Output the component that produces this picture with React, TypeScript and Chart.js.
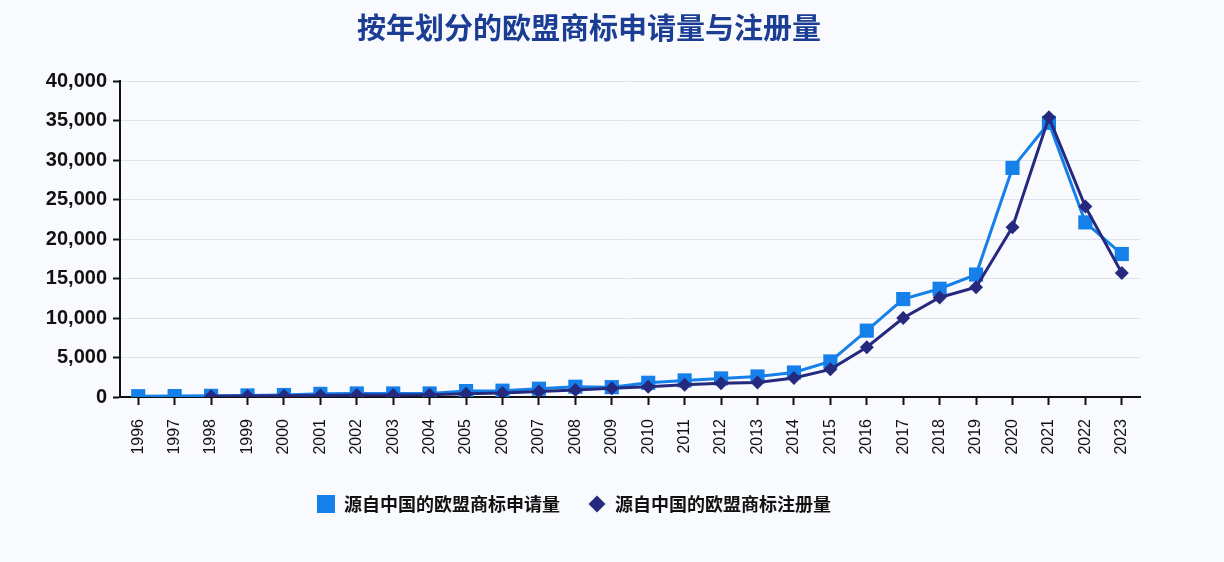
import React, { useEffect, useRef } from "react";
import { Chart, registerables } from "chart.js";

Chart.register(...registerables);

const TITLE = "按年划分的欧盟商标申请量与注册量";
const years = [
  "1996", "1997", "1998", "1999", "2000", "2001", "2002", "2003", "2004", "2005",
  "2006", "2007", "2008", "2009", "2010", "2011", "2012", "2013", "2014", "2015",
  "2016", "2017", "2018", "2019", "2020", "2021", "2022", "2023",
];
const applicationLabel = "源自中国的欧盟商标申请量";
const registrationLabel = "源自中国的欧盟商标注册量";
const applications = [
  100, 120, 150, 200, 250, 400, 450, 450, 450, 750,
  800, 1050, 1300, 1250, 1800, 2100, 2350, 2600, 3100, 4500,
  8400, 12400, 13700, 15500, 29000, 34700, 22100, 18100,
];
const registrations = [
  null, null, 100, 120, 150, 200, 250, 250, 300, 400,
  500, 700, 900, 1100, 1300, 1550, 1750, 1850, 2400, 3500,
  6300, 10000, 12600, 13900, 21500, 35400, 24100, 15700,
];
const yTicks = [0, 5000, 10000, 15000, 20000, 25000, 30000, 35000, 40000];

const LIGHT = "#1580ea";
const NAVY = "#262a7e";
const FONT = "'Liberation Sans', Arial, 'Noto Sans CJK SC', sans-serif";
const CJK = "'Noto Sans CJK SC', 'Liberation Sans', sans-serif";

const titlePlugin = {
  id: "customTitle",
  afterDraw(chart: any) {
    const ctx = chart.ctx;
    ctx.save();
    ctx.font = `bold 29px ${CJK}`;
    ctx.fillStyle = "#1b3d93";
    ctx.textAlign = "center";
    ctx.textBaseline = "middle";
    ctx.fillText(TITLE, 589, 28);
    ctx.restore();
  },
};

function makeMarker(kind: "square" | "diamond", color: string) {
  const c = document.createElement("canvas");
  c.width = 18;
  c.height = 18;
  const g = c.getContext("2d")!;
  g.fillStyle = color;
  if (kind === "square") {
    g.fillRect(0, 0, 18, 18);
  } else {
    g.beginPath();
    g.moveTo(9, 0.5);
    g.lineTo(17.5, 9);
    g.lineTo(9, 17.5);
    g.lineTo(0.5, 9);
    g.closePath();
    g.fill();
  }
  return c;
}

export default function App() {
  const ref = useRef<HTMLCanvasElement | null>(null);

  useEffect(() => {
    if (!ref.current) return;
    const markers = [makeMarker("square", LIGHT), makeMarker("diamond", NAVY)];
    const chart = new Chart(ref.current, {
      type: "line",
      data: {
        labels: years,
        datasets: [
          {
            label: applicationLabel,
            data: applications,
            borderColor: LIGHT,
            backgroundColor: LIGHT,
            borderWidth: 3,
            pointStyle: "rect",
            pointRadius: 10,
            pointBackgroundColor: LIGHT,
            pointBorderColor: LIGHT,
            pointBorderWidth: 0,
            tension: 0,
            order: 2,
          },
          {
            label: registrationLabel,
            data: registrations,
            borderColor: NAVY,
            backgroundColor: NAVY,
            borderWidth: 3,
            pointStyle: "rectRot",
            pointRadius: 7,
            pointBackgroundColor: NAVY,
            pointBorderColor: NAVY,
            pointBorderWidth: 0,
            tension: 0,
            order: 1,
          },
        ],
      },
      options: {
        animation: false,
        responsive: true,
        maintainAspectRatio: false,
        layout: { padding: { left: 8, right: 84, top: 81, bottom: 39 } },
        plugins: {
          title: { display: false },
          tooltip: { enabled: false },
          legend: {
            position: "bottom",
            labels: {
              usePointStyle: true,
              boxWidth: 18,
              boxHeight: 18,
              padding: 28,
              color: "#111",
              font: { family: CJK, size: 18, weight: "bold" },
              sort: (a: any, b: any) => a.datasetIndex - b.datasetIndex,
              generateLabels: (ch: any) => {
                const items = (Chart.defaults.plugins.legend.labels as any).generateLabels(ch);
                return items.map((it: any) => ({
                  ...it,
                  pointStyle: markers[it.datasetIndex],
                }));
              },
            },
          },
        },
        scales: {
          x: {
            offset: true,
            grid: {
              display: true,
              drawOnChartArea: false,
              tickColor: "#111",
              tickLength: 8,
              tickWidth: 2,
            },
            border: { color: "#111", width: 2 },
            ticks: {
              color: "#111",
              minRotation: 90,
              maxRotation: 90,
              autoSkip: false,
              padding: 14,
              font: { family: FONT, size: 16 },
            },
            afterFit: (s: any) => {
              s.height = 70;
            },
          },
          y: {
            min: 0,
            max: 40000,
            afterBuildTicks: (s: any) => {
              s.ticks = yTicks.map((v) => ({ value: v }));
            },
            grid: {
              color: "#dde3ea",
              lineWidth: 1,
              tickColor: "#111",
              tickLength: 7,
              tickWidth: 2,
            },
            border: { color: "#111", width: 2 },
            ticks: {
              color: "#111",
              padding: 6,
              font: { family: FONT, size: 20, weight: "bold" },
              callback: (v: any) => Number(v).toLocaleString("en-US"),
            },
            afterFit: (s: any) => {
              s.width = 112;
            },
          },
        },
      },
      plugins: [titlePlugin],
    });
    return () => chart.destroy();
  }, []);

  return (
    <div
      style={{
        position: "fixed",
        left: 0,
        top: 0,
        width: 1224,
        height: 562,
        background: "#f9fafd",
      }}
    >
      <canvas ref={ref} />
    </div>
  );
}
